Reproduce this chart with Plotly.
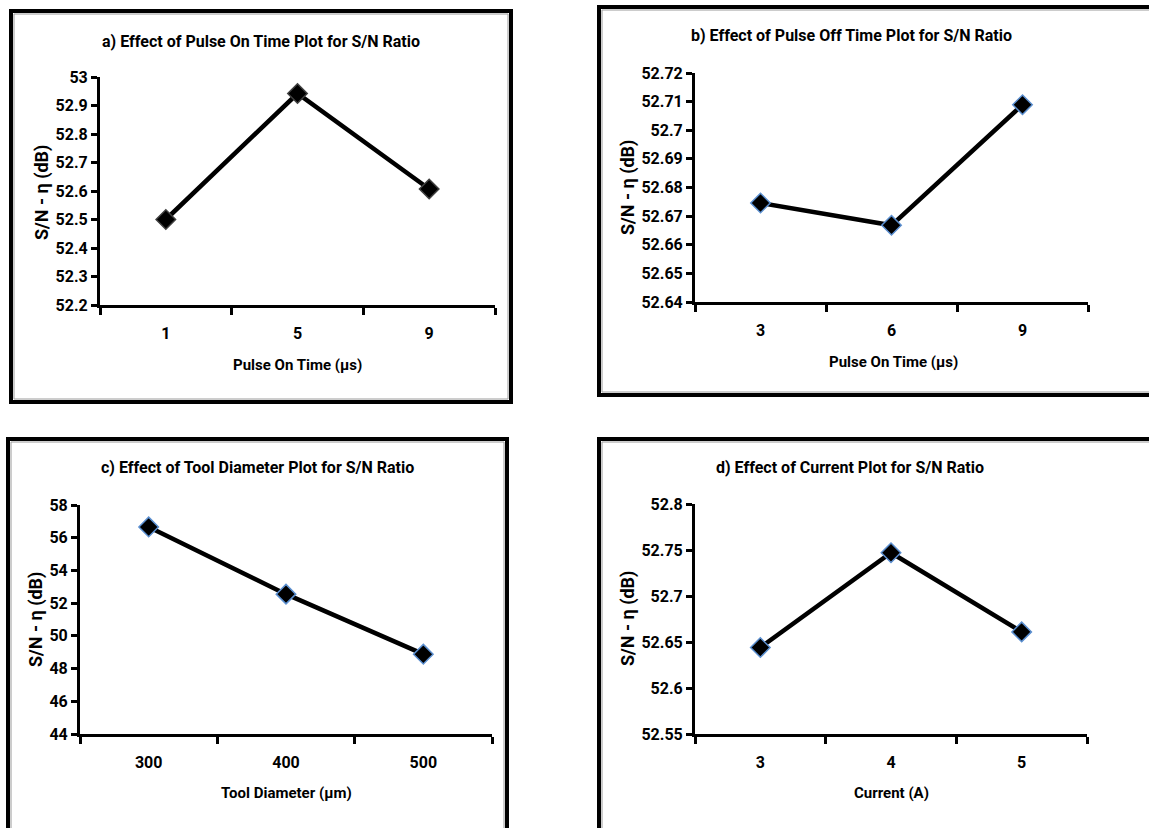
import plotly.graph_objects as go

W, H = 1149, 828

# ---------------- data ----------------
a_x = ["1", "5", "9"]
a_y = [52.500, 52.942, 52.607]

b_x = ["3", "6", "9"]
b_y = [52.6746, 52.6668, 52.7089]

c_x = ["300", "400", "500"]
c_y = [56.66, 52.55, 48.88]

d_x = ["3", "4", "5"]
d_y = [52.644, 52.747, 52.661]

titles = [
    "a) Effect of Pulse On Time Plot for S/N Ratio",
    "b) Effect of Pulse Off Time Plot for S/N Ratio",
    "c) Effect of Tool Diameter Plot for S/N Ratio",
    "d) Effect of Current Plot for S/N Ratio",
]
x_titles = ["Pulse On Time (µs)", "Pulse On Time (µs)", "Tool Diameter (µm)", "Current (A)"]
y_title = "S/N - η (dB)"
y_ranges = [[52.2, 53.0], [52.64, 52.72], [44, 58], [52.55, 52.8]]
y_dticks = [0.1, 0.01, 2, 0.05]

# ---------------- layout helpers ----------------
FONT = "Liberation Sans Narrow, Roboto, Lato, sans-serif"


def px(x):
    return x / W


def py(y):
    return 1 - y / H


# plot area boxes in pixels: left, right, top, bottom
boxes = [
    (100, 495, 77, 305),
    (695, 1088, 73, 302),
    (80, 492, 505, 734),
    (695, 1087, 504, 734),
]
# outer frames: left, top, right, bottom
frames = [
    (11, 11, 511, 402),
    (599, 7, 1170, 395),
    (8, 439, 507, 850),
    (599, 439, 1170, 850),
]
# text positions
title_pos = [(261, 41), (851, 36), (257, 468), (850, 468)]
xt_pos = [(297, 365), (893, 362), (286, 793), (891, 793)]
yt_pos = [(42, 193), (628, 188), (36, 620), (628, 619)]
marker_edge = ["#404040", "#5B8FD0", "#5B8FD0", "#5B8FD0"]

series = [(a_x, a_y), (b_x, b_y), (c_x, c_y), (d_x, d_y)]

fig = go.Figure()
layout = dict(
    width=W,
    height=H,
    margin=dict(l=0, r=0, t=0, b=0, pad=0),
    paper_bgcolor="white",
    plot_bgcolor="white",
    showlegend=False,
    font=dict(family=FONT, color="black", size=16),
    shapes=[],
    annotations=[],
)

for i, (xs, ys) in enumerate(series):
    n = "" if i == 0 else str(i + 1)
    fig.add_trace(
        go.Scatter(
            x=xs,
            y=ys,
            mode="lines+markers",
            line=dict(color="black", width=4.5),
            marker=dict(symbol="diamond", size=15, color="black",
                        line=dict(color=marker_edge[i], width=1.5)),
            xaxis="x" + n,
            yaxis="y" + n,
            cliponaxis=False,
        )
    )
    l, r, t, b = boxes[i]
    layout["xaxis" + n] = dict(
        domain=[px(l), px(r)],
        anchor="y" + n,
        type="category",
        range=[-0.5, 2.5],
        tickson="boundaries",
        ticks="outside",
        ticklen=7,
        tickwidth=3,
        tickcolor="black",
        showline=True,
        linecolor="black",
        linewidth=3,
        showgrid=False,
        zeroline=False,
        automargin=False,
        ticklabelstandoff=12,
        tickfont=dict(family=FONT, size=16, weight="bold"),
        fixedrange=True,
    )
    layout["yaxis" + n] = dict(
        domain=[py(b), py(t)],
        anchor="x" + n,
        range=y_ranges[i],
        dtick=y_dticks[i],
        tick0=y_ranges[i][0],
        ticks="outside",
        ticklen=6,
        tickwidth=2.5,
        tickcolor="black",
        showline=True,
        linecolor="black",
        linewidth=3,
        showgrid=False,
        zeroline=False,
        automargin=False,
        tickfont=dict(family=FONT, size=16, weight="bold"),
        fixedrange=True,
    )
    fl, ft, fr, fb = frames[i]
    # thin grey inner edge (shadow) of the frame
    layout["shapes"].append(dict(
        type="rect", xref="paper", yref="paper",
        x0=px(fl + 3), x1=px(fr - 3), y0=py(fb - 3), y1=py(ft + 3),
        line=dict(color="#9a9a9a", width=1), fillcolor="rgba(0,0,0,0)",
        layer="above",
    ))
    layout["shapes"].append(dict(
        type="rect", xref="paper", yref="paper",
        x0=px(fl), x1=px(fr), y0=py(fb), y1=py(ft),
        line=dict(color="black", width=4), fillcolor="rgba(0,0,0,0)",
        layer="above",
    ))
    tx, ty = title_pos[i]
    layout["annotations"].append(dict(
        text=titles[i], xref="paper", yref="paper", x=px(tx), y=py(ty),
        xanchor="center", yanchor="middle", showarrow=False,
        font=dict(family=FONT, size=16, weight="bold"),
    ))
    xx, xy = xt_pos[i]
    layout["annotations"].append(dict(
        text=x_titles[i], xref="paper", yref="paper", x=px(xx), y=py(xy),
        xanchor="center", yanchor="middle", showarrow=False,
        font=dict(family=FONT, size=15, weight="bold"),
    ))
    yx, yy = yt_pos[i]
    layout["annotations"].append(dict(
        text=y_title, xref="paper", yref="paper", x=px(yx), y=py(yy),
        xanchor="center", yanchor="middle", showarrow=False, textangle=-90,
        font=dict(family=FONT, size=18, weight="bold"),
    ))

fig.update_layout(**layout)
fig.write_html(
    "out.html",
    config={"displayModeBar": False},
    post_script="document.body.style.margin='0';document.body.style.overflow='hidden';",
)
